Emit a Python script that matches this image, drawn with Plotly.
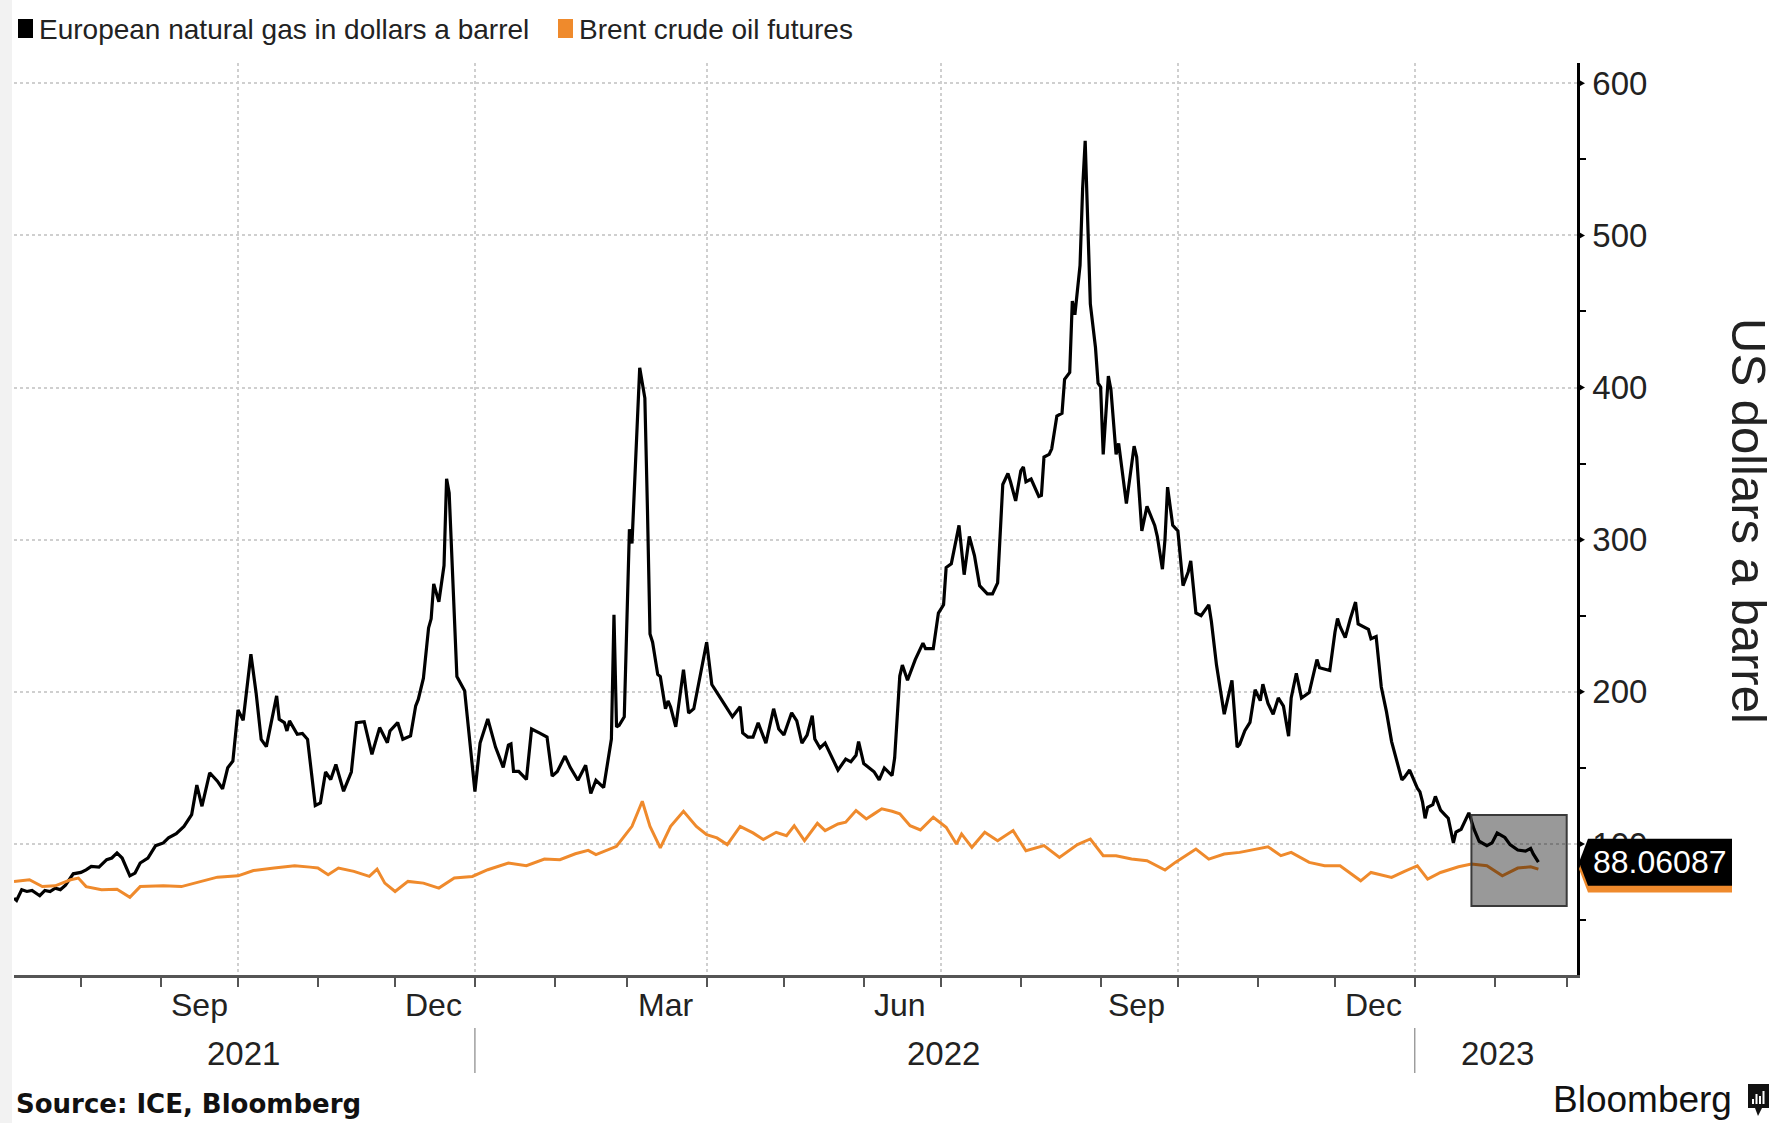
import plotly.graph_objects as go

# European natural gas (TTF) converted to US dollars a barrel of oil equivalent
GAS_DATES = [
    "2021-07-06", "2021-07-07", "2021-07-09", "2021-07-11", "2021-07-13", "2021-07-16", "2021-07-18",
    "2021-07-20", "2021-07-22", "2021-07-24", "2021-07-26", "2021-07-29", "2021-08-01", "2021-08-03",
    "2021-08-05", "2021-08-08", "2021-08-11", "2021-08-13", "2021-08-15", "2021-08-17", "2021-08-20",
    "2021-08-22", "2021-08-24", "2021-08-27", "2021-08-30", "2021-09-02", "2021-09-04", "2021-09-07",
    "2021-09-10", "2021-09-13", "2021-09-15", "2021-09-17", "2021-09-20", "2021-09-23", "2021-09-25",
    "2021-09-27", "2021-09-29", "2021-10-01", "2021-10-03", "2021-10-06", "2021-10-08", "2021-10-10",
    "2021-10-12", "2021-10-16", "2021-10-17", "2021-10-19", "2021-10-20", "2021-10-21", "2021-10-24",
    "2021-10-26", "2021-10-28", "2021-10-31", "2021-11-02", "2021-11-04", "2021-11-06", "2021-11-08",
    "2021-11-11", "2021-11-13", "2021-11-14", "2021-11-16", "2021-11-19", "2021-11-22", "2021-11-25",
    "2021-11-28", "2021-11-29", "2021-12-02", "2021-12-04", "2021-12-07", "2021-12-09", "2021-12-10",
    "2021-12-12", "2021-12-14", "2021-12-15", "2021-12-16", "2021-12-18", "2021-12-20", "2021-12-21",
    "2021-12-22", "2021-12-25", "2021-12-28", "2021-12-30", "2022-01-01", "2022-01-03", "2022-01-06",
    "2022-01-09", "2022-01-12", "2022-01-14", "2022-01-15", "2022-01-16", "2022-01-18", "2022-01-21",
    "2022-01-23", "2022-01-26", "2022-01-29", "2022-01-31", "2022-02-02", "2022-02-05", "2022-02-07",
    "2022-02-10", "2022-02-13", "2022-02-15", "2022-02-17", "2022-02-20", "2022-02-23", "2022-02-24",
    "2022-02-25", "2022-02-26", "2022-02-28", "2022-03-02", "2022-03-03", "2022-03-06", "2022-03-08",
    "2022-03-09", "2022-03-10", "2022-03-11", "2022-03-13", "2022-03-14", "2022-03-16", "2022-03-17",
    "2022-03-18", "2022-03-20", "2022-03-23", "2022-03-25", "2022-03-27", "2022-04-01", "2022-04-03",
    "2022-04-07", "2022-04-11", "2022-04-14", "2022-04-15", "2022-04-17", "2022-04-19", "2022-04-21",
    "2022-04-24", "2022-04-27", "2022-04-29", "2022-05-01", "2022-05-04", "2022-05-06", "2022-05-08",
    "2022-05-10", "2022-05-12", "2022-05-13", "2022-05-15", "2022-05-17", "2022-05-20", "2022-05-22",
    "2022-05-25", "2022-05-27", "2022-05-29", "2022-05-30", "2022-06-01", "2022-06-03", "2022-06-05",
    "2022-06-07", "2022-06-09", "2022-06-12", "2022-06-13", "2022-06-15", "2022-06-16", "2022-06-18",
    "2022-06-21", "2022-06-24", "2022-06-25", "2022-06-28", "2022-06-30", "2022-07-02", "2022-07-03",
    "2022-07-05", "2022-07-08", "2022-07-10", "2022-07-12", "2022-07-14", "2022-07-16", "2022-07-19",
    "2022-07-21", "2022-07-23", "2022-07-25", "2022-07-27", "2022-07-28", "2022-07-30", "2022-08-01",
    "2022-08-02", "2022-08-03", "2022-08-05", "2022-08-08", "2022-08-09", "2022-08-10", "2022-08-12",
    "2022-08-13", "2022-08-15", "2022-08-17", "2022-08-18", "2022-08-20", "2022-08-21", "2022-08-22",
    "2022-08-24", "2022-08-25", "2022-08-26", "2022-08-28", "2022-08-30", "2022-08-31", "2022-09-01",
    "2022-09-02", "2022-09-04", "2022-09-05", "2022-09-07", "2022-09-08", "2022-09-11", "2022-09-14",
    "2022-09-15", "2022-09-17", "2022-09-19", "2022-09-22", "2022-09-23", "2022-09-25", "2022-09-26",
    "2022-09-27", "2022-09-29", "2022-10-01", "2022-10-03", "2022-10-05", "2022-10-06", "2022-10-08",
    "2022-10-10", "2022-10-13", "2022-10-14", "2022-10-16", "2022-10-19", "2022-10-22", "2022-10-24",
    "2022-10-25", "2022-10-27", "2022-10-29", "2022-10-31", "2022-11-02", "2022-11-03", "2022-11-05",
    "2022-11-07", "2022-11-09", "2022-11-11", "2022-11-13", "2022-11-14", "2022-11-16", "2022-11-18",
    "2022-11-21", "2022-11-22", "2022-11-24", "2022-11-25", "2022-11-29", "2022-12-01", "2022-12-02",
    "2022-12-03", "2022-12-05", "2022-12-07", "2022-12-09", "2022-12-10", "2022-12-12", "2022-12-14",
    "2022-12-15", "2022-12-17", "2022-12-19", "2022-12-21", "2022-12-23", "2022-12-26", "2022-12-27",
    "2022-12-28", "2022-12-30", "2023-01-02", "2023-01-03", "2023-01-04", "2023-01-05", "2023-01-06",
    "2023-01-08", "2023-01-09", "2023-01-11", "2023-01-13", "2023-01-14", "2023-01-16", "2023-01-17",
    "2023-01-19", "2023-01-22", "2023-01-24", "2023-01-26", "2023-01-29", "2023-01-31", "2023-02-02",
    "2023-02-05", "2023-02-07", "2023-02-10", "2023-02-13", "2023-02-15", "2023-02-16", "2023-02-18",
]
GAS_VALUES = [
    64.4, 62.9, 69.9, 68.8, 69.5, 66.0, 69.5,
    68.8, 71.0, 70.0, 73.0, 80.4, 81.3, 83.0,
    85.3, 84.8, 89.7, 90.8, 94.1, 90.8, 79.1,
    80.9, 87.5, 90.8, 98.9, 100.7, 104.0, 106.8,
    111.6, 119.3, 138.7, 124.8, 146.8, 141.3, 136.3,
    150.1, 154.5, 188.1, 181.3, 224.8, 199.6, 168.8,
    164.0, 197.4, 182.0, 179.8, 174.3, 180.9, 172.1,
    172.7, 168.8, 125.3, 127.0, 147.3, 142.4, 152.3,
    134.7, 143.5, 147.3, 179.8, 180.4, 158.9, 176.5,
    166.6, 174.3, 179.8, 168.8, 171.0, 190.8, 195.0,
    209.0, 242.0, 248.0, 271.0, 259.2, 283.0, 340.0,
    330.8, 210.0, 200.8, 169.0, 134.5, 166.3, 182.2,
    163.7, 150.4, 165.0, 165.8, 147.7, 147.7, 142.4,
    175.6, 173.0, 170.3, 144.6, 147.7, 157.8, 150.4,
    141.9, 151.7, 133.2, 141.9, 137.1, 169.0, 250.7,
    176.9, 178.0, 183.6, 306.9, 297.6, 413.0, 393.1,
    320.2, 238.0, 232.6, 211.4, 210.0, 188.9, 194.0,
    190.0, 177.0, 214.6, 186.0, 188.9, 232.6, 204.8,
    194.2, 183.6, 190.2, 173.0, 170.3, 170.3, 179.6,
    166.3, 188.9, 175.6, 171.6, 186.2, 180.9, 166.3,
    171.6, 184.4, 169.0, 163.1, 166.3, 155.7, 148.6,
    155.8, 154.0, 158.3, 167.3, 152.9, 150.0, 147.5,
    142.1, 150.0, 145.0, 156.5, 210.4, 217.6, 207.6,
    221.2, 232.0, 228.4, 228.4, 251.8, 257.2, 281.7,
    284.2, 309.4, 277.0, 302.2, 289.6, 269.8, 264.4,
    264.4, 271.6, 336.3, 343.5, 338.1, 325.5, 345.3,
    347.8, 338.1, 339.9, 328.4, 329.1, 354.3, 356.1,
    359.7, 381.3, 383.1, 405.4, 410.0, 456.8, 447.8,
    480.2, 530.6, 562.2, 455.0, 426.3, 402.9, 400.4,
    356.1, 407.6, 398.6, 356.1, 363.3, 323.7, 361.5,
    354.3, 305.8, 321.9, 309.4, 302.2, 280.6, 300.4,
    334.5, 309.4, 305.8, 269.8, 278.8, 286.0, 251.8,
    250.0, 257.2, 246.4, 217.6, 185.3, 207.6, 163.7,
    165.5, 174.5, 179.9, 201.4, 194.2, 205.0, 192.4,
    185.3, 196.0, 190.6, 170.9, 196.0, 212.2, 196.0,
    199.6, 206.8, 221.2, 215.8, 214.0, 239.2, 248.2,
    242.8, 235.6, 248.2, 259.0, 244.6, 242.8, 241.0,
    234.9, 236.3, 203.2, 187.0, 167.3, 147.5, 142.1,
    143.9, 148.6, 136.7, 134.2, 127.7, 116.9, 124.1,
    125.9, 131.3, 122.3, 118.7, 116.9, 100.7, 107.9,
    109.7, 120.5, 109.7, 101.8, 98.9, 100.7, 107.2,
    104.3, 99.6, 96.0, 95.3, 97.1, 93.5, 88.06087,
]

# Brent crude oil futures, US dollars a barrel
BRENT_DATES = [
    "2021-07-06", "2021-07-12", "2021-07-17", "2021-07-22", "2021-07-28", "2021-07-31", "2021-08-03",
    "2021-08-09", "2021-08-15", "2021-08-20", "2021-08-24", "2021-09-02", "2021-09-09", "2021-09-17",
    "2021-09-23", "2021-10-01", "2021-10-07", "2021-10-15", "2021-10-23", "2021-10-29", "2021-11-01",
    "2021-11-05", "2021-11-09", "2021-11-15", "2021-11-21", "2021-11-24", "2021-11-27", "2021-12-01",
    "2021-12-06", "2021-12-12", "2021-12-18", "2021-12-24", "2021-12-31", "2022-01-06", "2022-01-14",
    "2022-01-21", "2022-01-28", "2022-02-03", "2022-02-09", "2022-02-14", "2022-02-17", "2022-02-25",
    "2022-03-03", "2022-03-07", "2022-03-10", "2022-03-14", "2022-03-18", "2022-03-23", "2022-03-28",
    "2022-04-01", "2022-04-05", "2022-04-09", "2022-04-14", "2022-04-19", "2022-04-23", "2022-04-28",
    "2022-05-02", "2022-05-05", "2022-05-09", "2022-05-14", "2022-05-17", "2022-05-22", "2022-05-25",
    "2022-05-29", "2022-06-02", "2022-06-05", "2022-06-08", "2022-06-12", "2022-06-15", "2022-06-19",
    "2022-06-23", "2022-06-28", "2022-07-03", "2022-07-07", "2022-07-09", "2022-07-13", "2022-07-18",
    "2022-07-23", "2022-07-29", "2022-08-03", "2022-08-10", "2022-08-16", "2022-08-23", "2022-08-28",
    "2022-09-02", "2022-09-07", "2022-09-13", "2022-09-19", "2022-09-26", "2022-09-30", "2022-10-08",
    "2022-10-13", "2022-10-19", "2022-10-25", "2022-10-31", "2022-11-05", "2022-11-10", "2022-11-14",
    "2022-11-21", "2022-11-27", "2022-12-03", "2022-12-11", "2022-12-15", "2022-12-23", "2022-12-28",
    "2023-01-02", "2023-01-06", "2023-01-11", "2023-01-18", "2023-01-23", "2023-01-29", "2023-02-04",
    "2023-02-10", "2023-02-15", "2023-02-18",
]
BRENT_VALUES = [
    75.4, 76.5, 72.0, 72.5, 76.5, 77.6, 72.0,
    69.9, 70.3, 65.0, 72.0, 72.5, 72.0, 75.4,
    78.2, 79.1, 82.6, 84.2, 85.7, 84.8, 84.2,
    79.8, 84.2, 82.0, 78.7, 83.5, 74.3, 68.8,
    75.4, 74.3, 71.0, 77.6, 78.7, 83.1, 87.5,
    85.7, 90.1, 89.7, 93.6, 95.8, 93.0, 98.5,
    111.6, 128.1, 111.6, 97.4, 111.6, 121.5, 111.6,
    106.2, 104.0, 99.6, 111.6, 107.3, 102.9, 107.7,
    105.5, 112.0, 102.2, 113.6, 108.8, 113.2, 114.3,
    122.0, 116.5, 119.8, 123.1, 121.5, 119.8, 112.0,
    109.2, 117.6, 111.0, 100.0, 106.6, 97.8, 107.7,
    102.2, 108.8, 95.6, 98.9, 91.2, 99.6, 103.3,
    92.3, 92.3, 90.1, 89.0, 82.9, 87.9, 96.7,
    90.1, 93.4, 94.5, 96.7, 98.2, 92.3, 94.5,
    87.9, 85.7, 85.7, 75.8, 81.3, 78.0, 82.0,
    85.7, 76.9, 81.3, 85.0, 86.8, 85.7, 79.1,
    84.2, 85.0, 83.5,
]

SERIES_NAMES = ["European natural gas in dollars a barrel", "Brent crude oil futures"]
SERIES_COLORS = ["#000000", "#ef8a2c"]

X_RANGE = ["2021-07-06", "2023-03-05"]
Y_RANGE = [13.9, 613.3]
Y_TICKS = [100, 200, 300, 400, 500, 600]
QUARTER_STARTS = ["2021-10-01", "2022-01-01", "2022-04-01", "2022-07-01", "2022-10-01", "2023-01-01"]
MONTH_LABELS = ["Sep", "Dec", "Mar", "Jun", "Sep", "Dec"]
MONTH_LABEL_DATES = ["2021-09-16", "2021-12-16", "2022-03-16", "2022-06-15", "2022-09-15", "2022-12-16"]
YEAR_LABELS = ["2021", "2022", "2023"]
YEAR_LABEL_DATES = ["2021-10-03", "2022-07-02", "2023-02-02"]
YEAR_BREAKS = ["2022-01-01", "2023-01-01"]
HIGHLIGHT_X = ["2023-01-23", "2023-03-01"]
HIGHLIGHT_Y = [59.2, 119.1]

# page geometry (pixels)
W, H = 1775, 1123
L, R, T, B = 14, 1577, 63, 975

FONT = "Liberation Sans, Arial, sans-serif"
TEXT = "#222222"


def px(x):
    """Horizontal page pixel -> paper fraction."""
    return (x - L) / (R - L)


def py(y):
    """Vertical page pixel -> paper fraction."""
    return (B - y) / (B - T)


def dy(pixels):
    """Vertical pixel distance -> y data units."""
    return pixels * (Y_RANGE[1] - Y_RANGE[0]) / (B - T)


fig = go.Figure()
fig.add_trace(go.Scatter(x=GAS_DATES, y=GAS_VALUES, mode="lines", name=SERIES_NAMES[0],
                         line=dict(color=SERIES_COLORS[0], width=3.2), showlegend=False))
fig.add_trace(go.Scatter(x=BRENT_DATES, y=BRENT_VALUES, mode="lines", name=SERIES_NAMES[1],
                         line=dict(color=SERIES_COLORS[1], width=3), showlegend=False))

shapes = []
annotations = []

# light strip along the left edge of the page
shapes.append(dict(type="rect", xref="paper", yref="paper", x0=px(0), x1=px(12), y0=py(H), y1=py(0),
                   fillcolor="#f2f2f2", line=dict(width=0), layer="below"))

# shaded box over the most recent weeks
shapes.append(dict(type="rect", xref="x", yref="y", x0=HIGHLIGHT_X[0], x1=HIGHLIGHT_X[1],
                   y0=HIGHLIGHT_Y[0], y1=HIGHLIGHT_Y[1], fillcolor="rgba(0,0,0,0.4)",
                   line=dict(color="#3a3a3a", width=2), layer="above"))

# right-pointing tick markers on the value axis
for v in Y_TICKS:
    shapes.append(dict(type="path", xref="paper", yref="y",
                       path=f"M {px(R)} {v + dy(4.5)} L {px(R + 8)} {v} L {px(R)} {v - dy(4.5)} Z",
                       fillcolor="#000000", line=dict(width=0)))

# year separators under the date axis
for d in YEAR_BREAKS:
    shapes.append(dict(type="line", xref="x", yref="paper", x0=d, x1=d, y0=py(1028), y1=py(1073),
                       line=dict(color="#888888", width=1.2)))

# last-value tags on the right axis: Brent first, gas on top
last_vals = [GAS_VALUES[-1], BRENT_VALUES[-1]]
for i in (1, 0):
    v = last_vals[i]
    half = dy(23.5)
    shapes.append(dict(type="path", xref="paper", yref="y",
                       path=(f"M {px(R + 2)} {v} L {px(R + 11)} {v + half} L {px(1732)} {v + half} "
                             f"L {px(1732)} {v - half} L {px(R + 11)} {v - half} Z"),
                       fillcolor=SERIES_COLORS[i], line=dict(width=0), layer="above"))
annotations.append(dict(xref="paper", yref="y", x=px(1660), y=last_vals[0], text=f"{last_vals[0]:.5f}",
                        showarrow=False, xanchor="center", yanchor="middle",
                        font=dict(family=FONT, size=32, color="#ffffff")))

# legend
legend_x = [18, 558]
for i, name in enumerate(SERIES_NAMES):
    shapes.append(dict(type="rect", xref="paper", yref="paper", x0=px(legend_x[i]), x1=px(legend_x[i] + 15),
                       y0=py(38), y1=py(19), fillcolor=SERIES_COLORS[i], line=dict(width=0)))
    annotations.append(dict(xref="paper", yref="paper", x=px(legend_x[i] + 19), y=py(29), text=name,
                            showarrow=False, xanchor="left", yanchor="middle",
                            font=dict(family=FONT, size=28, color=TEXT)))

# month and year labels under the date axis
for lab, d in zip(MONTH_LABELS, MONTH_LABEL_DATES):
    annotations.append(dict(xref="x", yref="paper", x=d, y=py(1005), text=lab, showarrow=False,
                            xanchor="center", yanchor="middle", font=dict(family=FONT, size=32, color=TEXT)))
for lab, d in zip(YEAR_LABELS, YEAR_LABEL_DATES):
    annotations.append(dict(xref="x", yref="paper", x=d, y=py(1053), text=lab, showarrow=False,
                            xanchor="center", yanchor="middle", font=dict(family=FONT, size=33, color=TEXT)))

# value axis title, reading downwards
annotations.append(dict(xref="paper", yref="paper", x=px(1749), y=py(521), text="US dollars a barrel",
                        textangle=90, showarrow=False, xanchor="center", yanchor="middle",
                        font=dict(family=FONT, size=49, color=TEXT)))

# footer
annotations.append(dict(xref="paper", yref="paper", x=px(14), y=py(1104), text="<b>Source: ICE, Bloomberg</b>",
                        showarrow=False, xanchor="left", yanchor="middle",
                        font=dict(family="DejaVu Sans, Verdana, sans-serif", size=26, color="#111111")))
annotations.append(dict(xref="paper", yref="paper", x=px(1734), y=py(1099), text="Bloomberg",
                        showarrow=False, xanchor="right", yanchor="middle",
                        font=dict(family=FONT, size=37, color="#111111")))
# small speech-bubble mark beside the wordmark
shapes.append(dict(type="path", xref="paper", yref="paper",
                   path=(f"M {px(1748)} {py(1084)} L {px(1769)} {py(1084)} L {px(1769)} {py(1108)} "
                         f"L {px(1762)} {py(1108)} L {px(1758)} {py(1116)} L {px(1755)} {py(1108)} "
                         f"L {px(1748)} {py(1108)} Z"),
                   fillcolor="#111111", line=dict(width=0)))
for bx, top in [(1752, 1099), (1755.5, 1094), (1759, 1096), (1762.5, 1091)]:
    shapes.append(dict(type="rect", xref="paper", yref="paper", x0=px(bx), x1=px(bx + 2),
                       y0=py(1104), y1=py(top), fillcolor="#ffffff", line=dict(width=0)))

fig.update_layout(
    width=W, height=H,
    margin=dict(l=L, r=W - R, t=T, b=H - B, pad=0),
    paper_bgcolor="#ffffff", plot_bgcolor="#ffffff",
    shapes=shapes, annotations=annotations,
    showlegend=False,
    xaxis=dict(
        type="date", range=X_RANGE, tickvals=QUARTER_STARTS, showticklabels=False,
        ticks="outside", ticklen=9, tickwidth=2, tickcolor="#555555",
        showgrid=True, gridcolor="#cfcfcf", griddash="dot", gridwidth=2,
        minor=dict(dtick="M1", tick0="2021-07-01", ticks="outside", ticklen=9, tickwidth=2,
                   tickcolor="#555555", showgrid=False),
        showline=True, linecolor="#555555", linewidth=3, zeroline=False, fixedrange=True,
    ),
    yaxis=dict(
        side="right", range=Y_RANGE, tickvals=Y_TICKS, ticks="outside", ticklen=6,
        tickcolor="rgba(0,0,0,0)", ticklabelstandoff=0,
        tickfont=dict(family=FONT, size=33, color=TEXT),
        showgrid=True, gridcolor="#cfcfcf", griddash="dot", gridwidth=2,
        minor=dict(tick0=50, dtick=100, ticks="outside", ticklen=6, tickwidth=2, tickcolor="#000000",
                   showgrid=False),
        showline=True, linecolor="#000000", linewidth=2.5, zeroline=False, fixedrange=True,
    ),
)

fig.write_html("out.html")
